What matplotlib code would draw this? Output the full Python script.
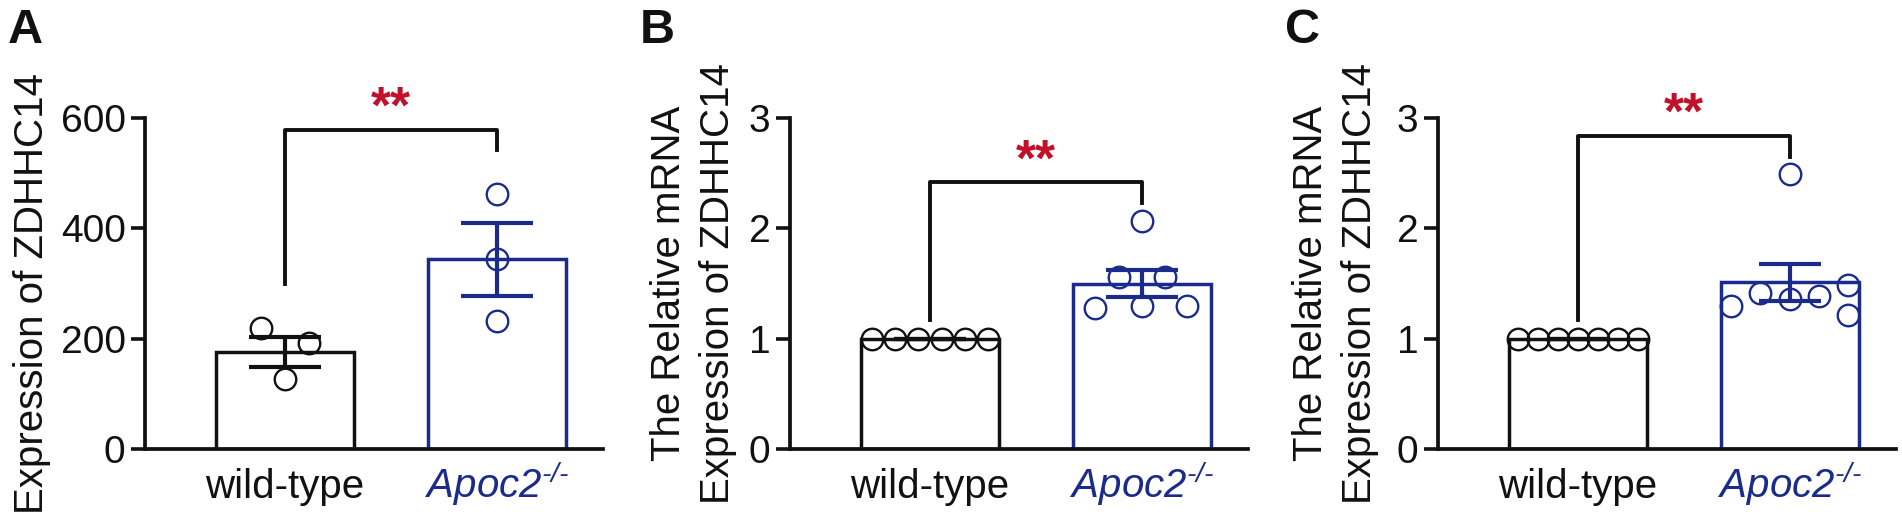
import matplotlib.pyplot as plt
import numpy as np

plt.rcParams['font.family'] = ['Liberation Sans', 'DejaVu Sans']
plt.rcParams['mathtext.fontset'] = 'custom'
plt.rcParams['mathtext.it'] = 'Liberation Sans:italic'
plt.rcParams['mathtext.rm'] = 'Liberation Sans:italic'

BLACK = '#111111'
BLUE = '#1b2b8c'
RED = '#c0102a'

groups = ['wild-type', r'$\mathit{Apoc2}^{\text{-/-}}$']

# Panel A: expression (arbitrary units)
a_wt = [220, 193, 127]
a_ko = [462, 345, 232]
a_mean = [176, 344]
a_sem = [27, 66]

# Panel B: relative mRNA
b_wt = [1.0, 1.0, 1.0, 1.0, 1.0, 1.0]
b_ko = [2.07, 1.56, 1.56, 1.28, 1.30, 1.30]
b_mean = [1.0, 1.50]
b_sem = [0.0, 0.12]

# Panel C: relative mRNA
c_wt = [1.0, 1.0, 1.0, 1.0, 1.0, 1.0, 1.0]
c_ko = [1.30, 1.41, 1.36, 1.39, 1.49, 1.21, 2.49]
c_mean = [1.0, 1.51]
c_sem = [0.0, 0.17]

# horizontal scatter of the dots (layout only)
a_off = ([-0.115, 0.115, 0.0], [0.0, 0.0, 0.0])
b_off = ([-0.275, -0.165, -0.055, 0.055, 0.165, 0.275],
         [0.0, -0.11, 0.11, -0.22, 0.0, 0.21])
c_off = ([-0.282, -0.188, -0.094, 0.0, 0.094, 0.188, 0.282],
         [-0.28, -0.14, 0.0, 0.137, 0.275, 0.275, 0.0])

# significance bracket: bar height, left leg end, right leg end, star baseline
a_br = (579, 299, 542, 591)
b_br = (2.42, 1.17, 2.23, 2.48)
c_br = (2.84, 1.17, 2.65, 2.90)


def draw_panel(ax, wt, ko, mean, sem, offs, br, ylim, yticks, ylabel,
               label_x, label_y, capsize):
    colors = [BLACK, BLUE]
    ax.bar([0, 1], mean, width=0.65, color='white', edgecolor=colors,
           linewidth=2.5, zorder=1)
    for i, c in enumerate(colors):
        ax.errorbar(i, mean[i], yerr=sem[i], color=c, elinewidth=3,
                    capsize=capsize, capthick=3, zorder=3)
    for i, (vals, c) in enumerate(zip([wt, ko], colors)):
        xs = i + np.array(offs[i])
        ax.plot(xs, vals, 'o', ms=15.5, mfc='none', mec=c, mew=1.7,
                zorder=4, clip_on=False)

    y_bar, y_left, y_right, y_star = br
    ax.plot([0, 0, 1, 1], [y_left, y_bar, y_bar, y_right], color=BLACK,
            lw=2.8, clip_on=False, zorder=2)
    ax.text(0.5, y_star, '**', color=RED, fontsize=37, fontweight='bold',
            ha='center', va='baseline', clip_on=False)

    ax.set_xlim(-0.66, 1.5)
    ax.set_ylim(*ylim)
    ax.set_yticks(yticks)
    ax.set_xticks([0, 1], groups)
    for lbl, c in zip(ax.get_xticklabels(), colors):
        lbl.set_color(c)
        lbl.set_va('baseline')
    ax.tick_params(axis='x', length=0, pad=35, labelsize=29)
    ax.tick_params(axis='y', length=10, width=2.6, pad=4, labelsize=28,
                   colors=BLACK)
    for s in ['top', 'right']:
        ax.spines[s].set_visible(False)
    for s in ['left', 'bottom']:
        ax.spines[s].set_linewidth(2.7)
        ax.spines[s].set_color(BLACK)
    ax.set_ylabel(ylabel, fontsize=29, linespacing=1.35, color=BLACK)
    ax.yaxis.set_label_coords(label_x, label_y)


fig = plt.figure(figsize=(19.02, 5.31), dpi=100)
W, H = 1902, 531
bottom, height, width = 82 / H, 331 / H, 458 / W
ax_a = fig.add_axes([145 / W, bottom, width, height])
ax_b = fig.add_axes([790 / W, bottom, width, height])
ax_c = fig.add_axes([1438 / W, bottom, width, height])

two_line = 'The Relative mRNA\nExpression of ZDHHC14'
draw_panel(ax_a, a_wt, a_ko, a_mean, a_sem, a_off, a_br, (0, 600),
           [0, 200, 400, 600], 'Expression of ZDHHC14', -0.205, 0.47, 26)
draw_panel(ax_b, b_wt, b_ko, b_mean, b_sem, b_off, b_br, (0, 3),
           [0, 1, 2, 3], two_line, -0.116, 0.5, 26)
draw_panel(ax_c, c_wt, c_ko, c_mean, c_sem, c_off, c_br, (0, 3),
           [0, 1, 2, 3], two_line, -0.129, 0.5, 22)

for letter, x in [('A', 8), ('B', 640), ('C', 1285)]:
    fig.text(x / W, 1 - 8 / H, letter, fontsize=35, fontweight='bold',
             ha='left', va='top', color=BLACK)

fig.savefig('out.png', dpi=100)
